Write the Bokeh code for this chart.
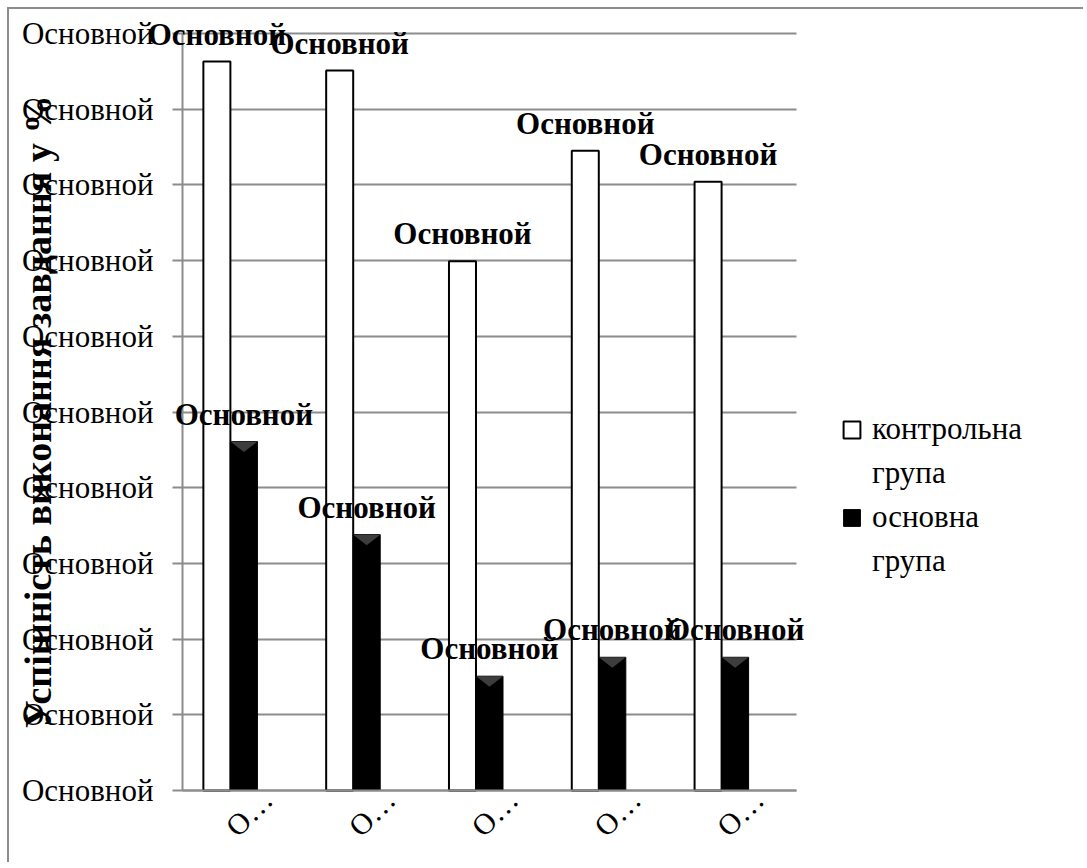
from math import pi
from bokeh.plotting import figure
from bokeh.models import (ColumnDataSource, LabelSet, Legend, LegendItem,
                          FixedTicker, Range1d)
from bokeh.embed import file_html
from bokeh.resources import INLINE

# ---- data ----
positions = [1, 2, 3, 4, 5]
x_tick_labels = ["О…", "О…", "О…", "О…", "О…"]
control = [96.3, 95.1, 69.9, 84.5, 80.4]       # контрольна група
main_grp = [46.1, 33.8, 15.1, 17.6, 17.6]      # основна група
y_ticks = [0, 10, 20, 30, 40, 50, 60, 70, 80, 90, 100]
y_tick_label = "Основной"
bar_label = "Основной"
legend_lines = ["контрольна", "група", "основна", "група"]
y_title = "Успішність виконання завдання у %"

FONT = "Liberation Serif"
GRID = "#8c8c8c"
BW = 0.22
XLAB_SHIFT = 0.19

# ---- layout (pixels) ----
W, H = 1076, 855
ORG = 9                      # canvas origin on page
AX, AY = 182, 790            # axis lines on page
FL, FR, FT, FB = ORG, 1081, 10, ORG + H   # frame edges on page
PX_PER_CAT = 122.8
PX_PER_Y = (790 - 33) / 100.0

x_start = 0.5 - (AX - FL) / PX_PER_CAT
x_end = 0.5 + (FR - AX) / PX_PER_CAT
y_start = -(FB - AY) / PX_PER_Y
y_end = 100 + (33 - FT) / PX_PER_Y

p = figure(width=W, height=H, output_backend="svg", toolbar_location=None,
           x_range=Range1d(x_start, x_end), y_range=Range1d(y_start, y_end),
           min_border_left=0, min_border_right=ORG + W - FR,
           min_border_top=FT - ORG, min_border_bottom=0,
           styles={"margin-left": "7px", "margin-top": "7px",
                   "border-left": "2px solid #8c8c8c",
                   "border-top": "2px solid #8c8c8c"})
p.outline_line_color = None
p.background_fill_color = "white"
p.border_fill_color = "white"

xc = [x - BW for x in positions]
src = ColumnDataSource(dict(xc=xc, xm=positions, control=control, main=main_grp,
                            lab=[bar_label] * len(positions)))

r_c = p.vbar(x="xc", top="control", width=BW, source=src, fill_color="white",
             line_color="black", line_width=2)
r_m = p.vbar(x="xm", top="main", width=BW, source=src, fill_color="black",
             line_color="black", line_width=1)

# bevel at the top of black bars (derived from data)
bev = 1.4
p.patches(xs=[[x - BW / 2, x + BW / 2, x] for x in positions],
          ys=[[v, v, v - bev] for v in main_grp],
          fill_color="#3d3d3d", line_color=None)

# axes
p.xaxis.fixed_location = 0
p.xaxis.ticker = FixedTicker(ticks=[x + XLAB_SHIFT for x in positions])
p.xaxis.major_label_overrides = {x + XLAB_SHIFT: t for x, t in zip(positions, x_tick_labels)}
p.xaxis.major_label_orientation = pi / 4
p.xaxis.major_label_text_font = FONT
p.xaxis.major_label_text_font_size = "30px"
p.xaxis.major_label_text_color = "black"
p.xaxis.major_tick_out = 0
p.xaxis.major_tick_in = 0
p.xaxis.minor_tick_line_color = None
p.xaxis.axis_line_color = GRID
p.xaxis.axis_line_width = 2
p.xaxis.major_label_standoff = 4
p.xaxis.bounds = (0.5, 5.5)

p.yaxis.fixed_location = 0.5
p.yaxis.ticker = FixedTicker(ticks=y_ticks)
p.yaxis.major_label_overrides = {t: y_tick_label for t in y_ticks}
p.yaxis.major_label_text_font = FONT
p.yaxis.major_label_text_font_size = "31px"
p.yaxis.major_label_text_color = "black"
p.yaxis.major_tick_out = 10
p.yaxis.major_tick_in = 0
p.yaxis.major_tick_line_color = GRID
p.yaxis.major_tick_line_width = 2
p.yaxis.minor_tick_line_color = None
p.yaxis.axis_line_color = GRID
p.yaxis.axis_line_width = 2
p.yaxis.major_label_standoff = 19
p.yaxis.bounds = (0, 100)
p.yaxis.axis_label = y_title
p.yaxis.axis_label_text_font = FONT
p.yaxis.axis_label_text_font_size = "38px"
p.yaxis.axis_label_text_font_style = "bold"
p.yaxis.axis_label_text_color = "black"
p.yaxis.axis_label_standoff = -40

p.xgrid.grid_line_color = None
p.ygrid.ticker = FixedTicker(ticks=y_ticks)
try:
    p.ygrid.cross_bounds = (0.5, 5.5)
    p.ygrid.grid_line_color = GRID
    p.ygrid.grid_line_width = 2
except AttributeError:
    p.ygrid.grid_line_color = None
    p.segment(x0=[0.5] * len(y_ticks), x1=[5.5] * len(y_ticks), y0=y_ticks,
              y1=y_ticks, line_color=GRID, line_width=2)

# data labels
for xcol, ycol in (("xc", "control"), ("xm", "main")):
    p.add_layout(LabelSet(x=xcol, y=ycol, text="lab", source=src,
                          text_align="center", text_baseline="bottom",
                          y_offset=10, text_font=FONT, text_font_size="31px",
                          text_font_style="bold", text_color="black"))

# legend
blank = p.vbar(x=[0], top=[0], width=0.1, fill_alpha=0, line_alpha=0)
legend = Legend(items=[LegendItem(label=legend_lines[0], renderers=[r_c]),
                       LegendItem(label=legend_lines[1], renderers=[blank]),
                       LegendItem(label=legend_lines[2], renderers=[r_m]),
                       LegendItem(label=legend_lines[3], renderers=[blank])],
                location=(841 - FL, FB - 583), padding=0, margin=0, spacing=0,
                glyph_width=21, glyph_height=21, label_height=44,
                label_standoff=10, label_text_font=FONT,
                label_text_font_size="31px", label_text_color="black",
                border_line_color=None, background_fill_alpha=0)
p.add_layout(legend)

open("out.html", "w").write(file_html(p, INLINE))
